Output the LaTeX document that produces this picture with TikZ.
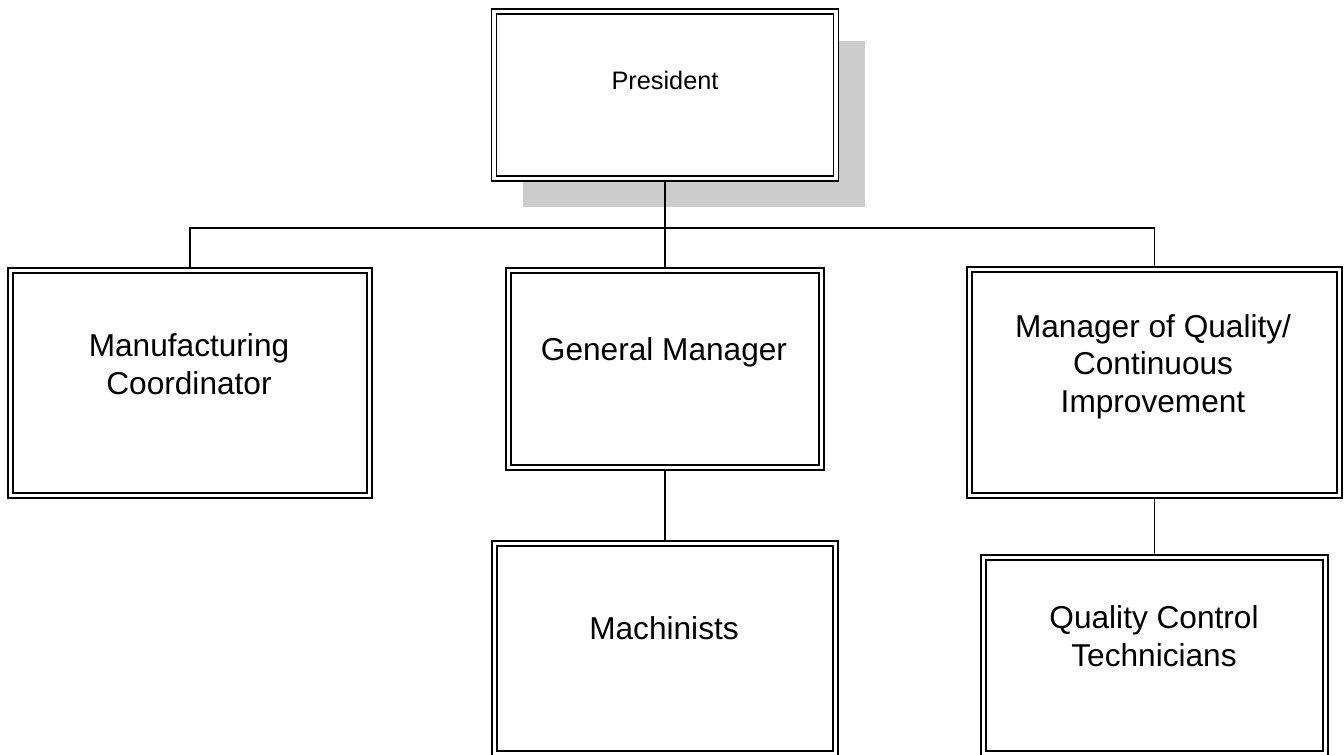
\documentclass[tikz,border=0pt]{standalone}
\usepackage{fontspec}
\setmainfont{Liberation Sans}
\usepackage{tikz}
\usetikzlibrary{shadows}
\definecolor{shade}{HTML}{CCCCCC}
\tikzset{
  post/.style n args={2}{draw=black,fill=white,double=white,double distance=1.9pt,line width=0.85pt,
    minimum width=#1,minimum height=#2,inner sep=0pt,outer sep=1.8pt},
  title/.style={font=\fontsize{18}{21.3}\selectfont,align=center,anchor=base,inner sep=0pt},
  link/.style={draw=black,line width=0.95pt},
}

\begin{document}
\begin{tikzpicture}[x=0.02cm,y=-0.02cm]
  \useasboundingbox (0,0) rectangle (1344,754);
  \node[post={6.84cm}{3.34cm},drop shadow={shadow xshift=0.58cm,shadow yshift=-0.58cm,fill=shade,opacity=1}] (pres) at (665,95) {};
  \node[post={7.18cm}{4.5cm}] (mc) at (190,383) {};
  \node[post={6.26cm}{3.94cm}] (gm) at (665,369) {};
  \node[post={7.4cm}{4.52cm}] (mq) at (1154.5,382.5) {};
  \node[post={6.82cm}{4.2cm}] (mach) at (665,648.5) {};
  \node[post={6.84cm}{3.92cm}] (qct) at (1154.5,655.5) {};
  % multi-line titles sit on the baseline of their last line
  \node[title,font=\fontsize{14.4}{17}\selectfont] (pres-t) at (665,89) {President};
  \node[title] (mc-t) at (189,394) {Manufacturing\\Coordinator};
  \node[title] (gm-t) at (664,360) {General Manager};
  \node[title] (mq-t) at (1153,412) {Manager of Quality/\\Continuous\\Improvement};
  \node[title] (mach-t) at (664,639) {Machinists};
  \node[title] (qct-t) at (1154,666) {Quality Control\\Technicians};
  \coordinate (bus) at (665,228);
  \draw[link] (pres.south) -- (bus) -- (gm.north);
  \draw[link] (mc.north) |- (bus) -| (mq.north);
  \draw[link] (gm.south) -- (mach.north);
  \draw[link] (mq.south) -- (qct.north);
\end{tikzpicture}
\end{document}
